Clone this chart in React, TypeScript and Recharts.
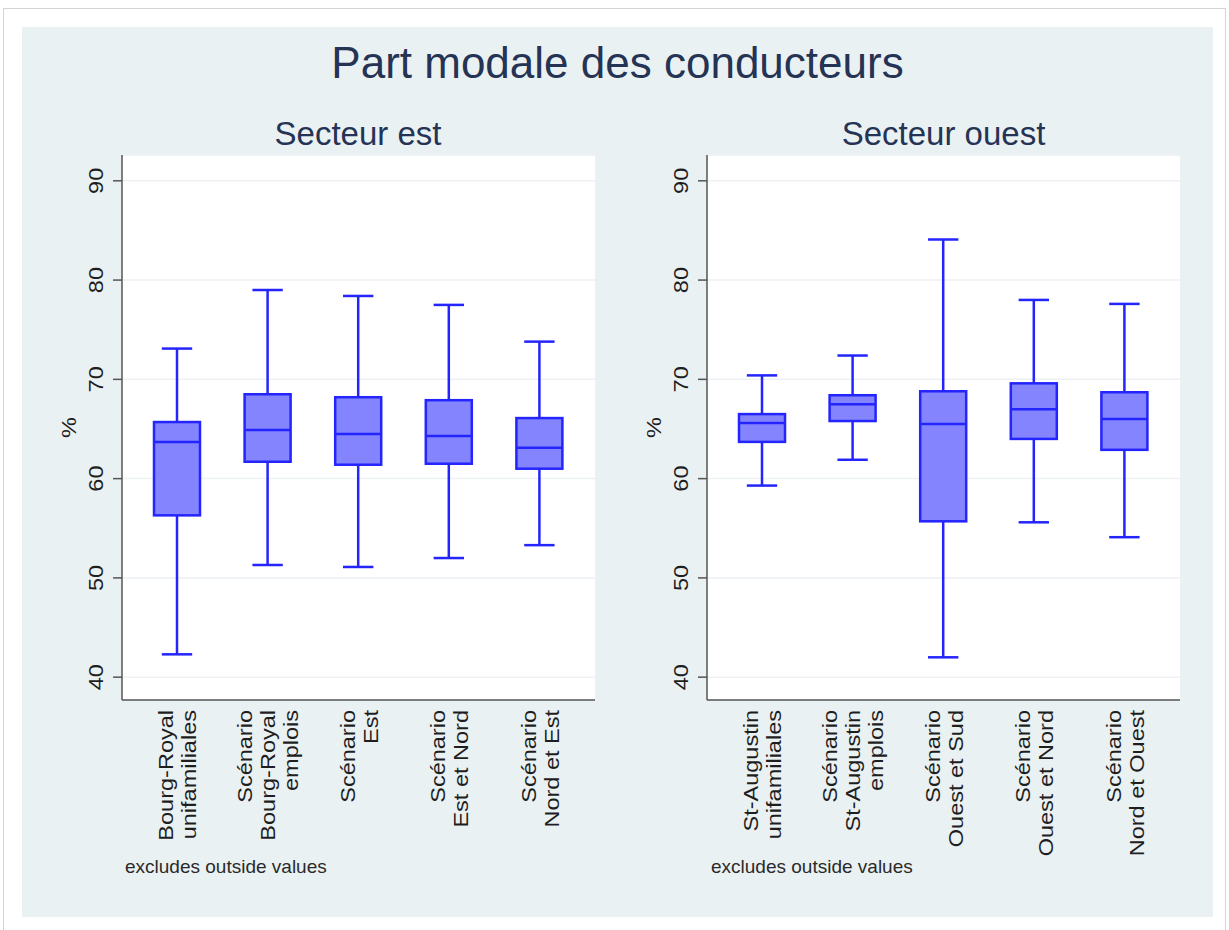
import { Bar, CartesianGrid, ComposedChart, XAxis, YAxis } from "recharts";

const FONT = '"Liberation Sans", Arial, Helvetica, sans-serif';

// Secteur est
const eastCategories = [
  "Bourg-Royal\nunifamiliales",
  "Scénario\nBourg-Royal\nemplois",
  "Scénario\nEst",
  "Scénario\nEst et Nord",
  "Scénario\nNord et Est",
];
const eastMin = [42.3, 51.3, 51.1, 52.0, 53.3];
const eastQ1 = [56.3, 61.7, 61.4, 61.5, 61.0];
const eastMedian = [63.7, 64.9, 64.5, 64.3, 63.1];
const eastQ3 = [65.7, 68.5, 68.2, 67.9, 66.1];
const eastMax = [73.1, 79.0, 78.4, 77.5, 73.8];

// Secteur ouest
const westCategories = [
  "St-Augustin\nunifamiliales",
  "Scénario\nSt-Augustin\nemplois",
  "Scénario\nOuest et Sud",
  "Scénario\nOuest et Nord",
  "Scénario\nNord et Ouest",
];
const westMin = [59.3, 61.9, 42.0, 55.6, 54.1];
const westQ1 = [63.7, 65.8, 55.7, 64.0, 62.9];
const westMedian = [65.6, 67.5, 65.5, 67.0, 66.0];
const westQ3 = [66.5, 68.4, 68.8, 69.6, 68.7];
const westMax = [70.4, 72.4, 84.1, 78.0, 77.6];

const yTicks = [40, 50, 60, 70, 80, 90];

type BoxRow = { label: string; min: number; q1: number; median: number; q3: number; max: number };

const buildRows = (cats: string[], min: number[], q1: number[], med: number[], q3: number[], max: number[]): BoxRow[] =>
  cats.map((label, i) => ({ label, min: min[i], q1: q1[i], median: med[i], q3: q3[i], max: max[i] }));

const eastData = buildRows(eastCategories, eastMin, eastQ1, eastMedian, eastQ3, eastMax);
const westData = buildRows(westCategories, westMin, westQ1, westMedian, westQ3, westMax);

const BOX_STROKE = "#2424ff";
const BOX_FILL = "#8484ff";
const TEXT = "#1e1e1e";
// rotated labels in the source look a bit longer than their thickness suggests
const STRETCH = 1.12;

// draws whiskers + box from the min..max bar geometry given by the y scale
const BoxShape = (props: any) => {
  const { x, y, width, height, payload } = props;
  if (!payload) return null;
  const top = Math.min(y, y + height);
  const span = Math.abs(height);
  const toY = (v: number) => top + (span * (payload.max - v)) / (payload.max - payload.min);
  const cx = x + width / 2;
  const cap = width * 0.33;
  const yMax = toY(payload.max);
  const yQ3 = toY(payload.q3);
  const yMed = toY(payload.median);
  const yQ1 = toY(payload.q1);
  const yMin = toY(payload.min);
  return (
    <g stroke={BOX_STROKE} strokeWidth={2.5}>
      <line x1={cx} x2={cx} y1={yMax} y2={yQ3} />
      <line x1={cx} x2={cx} y1={yQ1} y2={yMin} />
      <line x1={cx - cap} x2={cx + cap} y1={yMax} y2={yMax} />
      <line x1={cx - cap} x2={cx + cap} y1={yMin} y2={yMin} />
      <rect x={x} y={yQ3} width={width} height={yQ1 - yQ3} fill={BOX_FILL} />
      <line x1={x} x2={x + width} y1={yMed} y2={yMed} />
    </g>
  );
};

const CategoryTick = (props: any) => {
  const { x, y, payload } = props;
  const lines: string[] = String(payload.value).split("\n");
  const lh = 23;
  return (
    <g>
      {lines.map((line, i) => {
        const bx = x - ((lines.length - 1) * lh) / 2 + i * lh + 7.5;
        return (
          <text
            key={i}
            transform={`translate(${bx},${y}) rotate(-90) scale(${STRETCH},1)`}
            textAnchor="end"
            fontSize={21}
            fontFamily={FONT}
            fill={TEXT}
          >
            {line}
          </text>
        );
      })}
    </g>
  );
};

const ValueTick = (props: any) => {
  const { x, y, payload } = props;
  return (
    <text
      transform={`translate(${x},${y}) rotate(-90) scale(${STRETCH},1)`}
      textAnchor="middle"
      fontSize={21}
      fontFamily={FONT}
      fill={TEXT}
    >
      {payload.value}
    </text>
  );
};

const Panel = ({ data, left }: { data: BoxRow[]; left: number }) => (
  <div style={{ position: "absolute", left, top: 140 }}>
    <ComposedChart width={570} height={760} data={data} margin={{ top: 15, right: 15, bottom: 0, left: 0 }}>
      <CartesianGrid vertical={false} stroke="#edf1f3" strokeWidth={1.5} fill="#ffffff" />
      <XAxis
        dataKey="label"
        type="category"
        height={200}
        interval={0}
        padding={{ left: 10, right: 10 }}
        axisLine={{ stroke: "#555555", strokeWidth: 1.5 }}
        tickLine={false}
        tickSize={0}
        tickMargin={10}
        tick={<CategoryTick />}
      />
      <YAxis
        type="number"
        domain={[37.7, 92.6]}
        ticks={yTicks}
        allowDataOverflow
        width={82}
        tickSize={9}
        tickMargin={10}
        axisLine={{ stroke: "#555555", strokeWidth: 1.5 }}
        tickLine={{ stroke: "#555555", strokeWidth: 1.5 }}
        tick={<ValueTick />}
      />
      <Bar dataKey={(d: BoxRow) => [d.min, d.max]} barSize={46} shape={<BoxShape />} isAnimationActive={false} />
    </ComposedChart>
  </div>
);

export default function App() {
  const navy = "#253355";
  return (
    <div style={{ position: "absolute", left: 0, top: 0, width: 1229, height: 930, background: "#ffffff", overflow: "hidden" }}>
      <div
        style={{
          position: "absolute",
          left: 3,
          top: 8,
          width: 1223,
          height: 930,
          border: "1px solid #d4d4d4",
          boxSizing: "border-box",
        }}
      />
      <div style={{ position: "absolute", left: 22, top: 27, width: 1191, height: 890, background: "#eaf1f3" }} />
      <Panel data={eastData} left={40} />
      <Panel data={westData} left={625} />
      <svg width={1229} height={930} style={{ position: "absolute", left: 0, top: 0, pointerEvents: "none" }}>
        <text x={617.5} y={78} textAnchor="middle" fontSize={44} fontFamily={FONT} fill={navy}>
          Part modale des conducteurs
        </text>
        <text x={358} y={145} textAnchor="middle" fontSize={33} fontFamily={FONT} fill={navy}>
          Secteur est
        </text>
        <text x={943.5} y={145} textAnchor="middle" fontSize={33} fontFamily={FONT} fill={navy}>
          Secteur ouest
        </text>
        <text
          transform={`translate(75.5,427.5) rotate(-90) scale(${STRETCH},1)`}
          textAnchor="middle"
          fontSize={21}
          fontFamily={FONT}
          fill={TEXT}
        >
          %
        </text>
        <text
          transform={`translate(660.5,427.5) rotate(-90) scale(${STRETCH},1)`}
          textAnchor="middle"
          fontSize={21}
          fontFamily={FONT}
          fill={TEXT}
        >
          %
        </text>
        <text x={125} y={873} fontSize={19} fontFamily={FONT} fill="#2a2a2a">
          excludes outside values
        </text>
        <text x={711} y={873} fontSize={19} fontFamily={FONT} fill="#2a2a2a">
          excludes outside values
        </text>
      </svg>
    </div>
  );
}
